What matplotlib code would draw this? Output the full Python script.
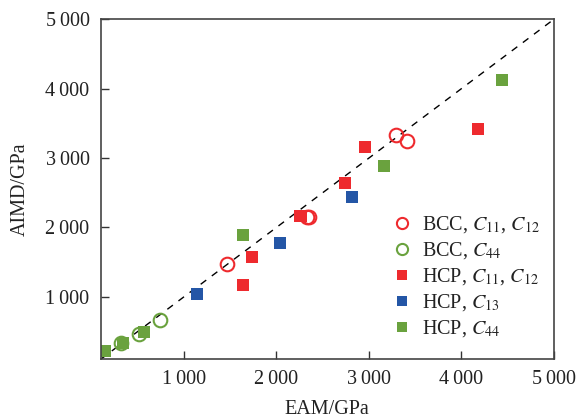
import matplotlib
matplotlib.use("Agg")
import matplotlib.pyplot as plt
from matplotlib.ticker import FuncFormatter

plt.rcParams['font.family'] = ['Liberation Serif', 'DejaVu Serif']
plt.rcParams['mathtext.fontset'] = 'stix'

# data (EAM, AIMD) in GPa
bcc_c11_x = [1468, 2327, 2356, 3298, 3417]
bcc_c11_y = [1470, 2149, 2149, 3338, 3247]
bcc_c44_x = [741, 515, 325]
bcc_c44_y = [670, 464, 335]
hcp_c11_x = [2957, 2741, 2250, 2270, 1738, 1641, 4176]
hcp_c11_y = [3155, 2638, 2164, 2164, 1575, 1172, 3414]
hcp_c13_x = [1145, 2040, 2817]
hcp_c13_y = [1039, 1772, 2432]
hcp_c44_x = [146, 336, 569, 1641, 3162, 4444]
hcp_c44_y = [224, 330, 497, 1891, 2882, 4128]

xticks = [1000, 2000, 3000, 4000, 5000]
yticks = [1000, 2000, 3000, 4000, 5000]
lim = [100, 5000]

red = '#EE2A2E'
green = '#6AA23E'
blue = '#2456A6'

fig = plt.figure(figsize=(5.8, 4.19), dpi=100)
ax = fig.add_axes([0.1736, 0.1425, 0.955 - 0.1736, 0.954 - 0.1425])

ax.plot(lim, lim, ls=(0, (5, 5)), color='black', lw=1.0, zorder=1)

ms = 9.0
mc = 9.8
ax.plot(hcp_c44_x, hcp_c44_y, 's', color=green, ms=ms, mew=0, label=r'HCP, $C_{44}$', zorder=2)
ax.plot(bcc_c44_x, bcc_c44_y, 'o', mfc='none', mec=green, ms=mc, mew=1.5, label=r'BCC, $C_{44}$', zorder=3)
ax.plot(hcp_c11_x, hcp_c11_y, 's', color=red, ms=ms, mew=0, label=r'HCP, $C_{11}$, $C_{12}$', zorder=2)
ax.plot(hcp_c13_x, hcp_c13_y, 's', color=blue, ms=ms, mew=0, label=r'HCP, $C_{13}$', zorder=2)
ax.plot(bcc_c11_x, bcc_c11_y, 'o', mfc='none', mec=red, ms=mc, mew=1.5, label=r'BCC, $C_{11}$, $C_{12}$', zorder=3)

ax.set_xlim(lim)
ax.set_ylim(lim)
ax.set_xticks(xticks)
ax.set_yticks(yticks)
fmt = FuncFormatter(lambda v, p: f"{int(v)//1000}\u2009000")
ax.xaxis.set_major_formatter(fmt)
ax.yaxis.set_major_formatter(fmt)
ax.tick_params(direction='in', length=6, width=1, labelsize=14.5, colors='#333333', labelcolor='#222222', pad=8)
for s in ax.spines.values():
    s.set_color('#444444')
    s.set_linewidth(1.2)

ax.set_xlabel('EAM/GPa', fontsize=14.5, color='#222222', labelpad=7.5)
ax.set_ylabel('AIMD/GPa', fontsize=14.5, color='#222222', labelpad=11)

handles, labels = ax.get_legend_handles_labels()
order = [4, 1, 2, 3, 0]
leg = ax.legend([handles[i] for i in order], [labels[i] for i in order],
                loc='lower right', bbox_to_anchor=(1.0, 0.018), frameon=False,
                fontsize=14.5, markerscale=0.82, handletextpad=0.4,
                labelspacing=0.25, handlelength=1.2, borderaxespad=0.3)
for t in leg.get_texts():
    t.set_color('#222222')

fig.savefig('out.png', dpi=100)
